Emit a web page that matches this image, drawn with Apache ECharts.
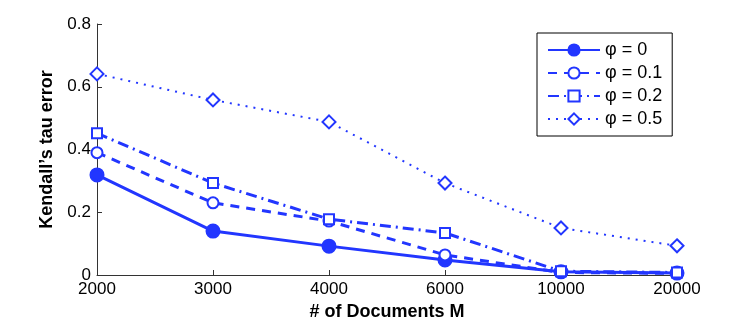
<!DOCTYPE html>
<html>
<head>
<meta charset="utf-8">
<script src="https://cdn.jsdelivr.net/npm/echarts@6/dist/echarts.min.js"></script>
<style>
  html, body { margin: 0; padding: 0; background: #fff; }
  #chart { width: 747px; height: 324px; }
</style>
</head>
<body>
<div id="chart"></div>
<script>
  const docs = ['2000', '3000', '4000', '6000', '10000', '20000']
  const phi0 = [0.319, 0.140, 0.092, 0.048, 0.010, 0.006]
  const phi01 = [0.390, 0.230, 0.172, 0.064, 0.008, 0.005]
  const phi02 = [0.452, 0.293, 0.178, 0.134, 0.012, 0.008]
  const phi05 = [0.641, 0.558, 0.488, 0.293, 0.150, 0.093]
  const names = ['φ = 0', 'φ = 0.1', 'φ = 0.2', 'φ = 0.5']

  const blue = '#2236ff'
  const font = 'Liberation Sans, Arial, sans-serif'

  function line (name, data, symbol, size, width, dash) {
    return {
      name: name,
      type: 'line',
      data: data,
      symbol: symbol,
      symbolSize: size,
      showAllSymbol: true,
      lineStyle: { color: blue, width: width, type: dash },
      itemStyle: { color: blue, borderColor: blue, borderWidth: 3 },
      emphasis: { disabled: true },
      z: 3
    }
  }

  let chart = echarts.init(document.getElementById('chart'))
  chart.setOption({
    animation: false,
    grid: { left: 97, right: 70, top: 24, bottom: 49, outerBoundsMode: 'none', containLabel: false },
    legend: {
      left: 537,
      top: 33,
      orient: 'vertical',
      data: names,
      itemWidth: 52,
      itemHeight: 14,
      itemGap: 5,
      padding: [8, 10, 8, 10],
      borderColor: '#000',
      borderWidth: 1,
      backgroundColor: '#fff',
      textStyle: { fontFamily: font, fontSize: 18, color: '#000' }
    },
    xAxis: {
      type: 'category',
      data: docs,
      boundaryGap: false,
      name: '# of Documents M',
      nameLocation: 'middle',
      nameGap: 28,
      nameTextStyle: { fontFamily: font, fontSize: 18, fontWeight: 'bold', color: '#000' },
      axisLine: { lineStyle: { color: '#333', width: 1 } },
      axisTick: { inside: true, length: 5, lineStyle: { color: '#333' } },
      axisLabel: { fontFamily: font, fontSize: 17, color: '#000', margin: 6 },
      splitLine: { show: false }
    },
    yAxis: {
      type: 'value',
      min: 0,
      max: 0.8,
      interval: 0.2,
      name: 'Kendall’s tau error',
      nameLocation: 'middle',
      nameGap: 38,
      nameTextStyle: { fontFamily: font, fontSize: 18, fontWeight: 'bold', color: '#000' },
      axisLine: { show: true, lineStyle: { color: '#333', width: 1 } },
      axisTick: { show: true, inside: true, length: 5, lineStyle: { color: '#333' } },
      axisLabel: { fontFamily: font, fontSize: 17, color: '#000', margin: 6 },
      splitLine: { show: false }
    },
    series: [
      line(names[0], phi0, 'circle', 12, 3, 'solid'),
      line(names[1], phi01, 'emptyCircle', 11, 3, [9, 7]),
      line(names[2], phi02, 'emptyRect', 10, 3, [11, 5, 2, 5]),
      line(names[3], phi05, 'emptyDiamond', 13, 2, [2, 6])
    ]
  })
</script>
</body>
</html>
